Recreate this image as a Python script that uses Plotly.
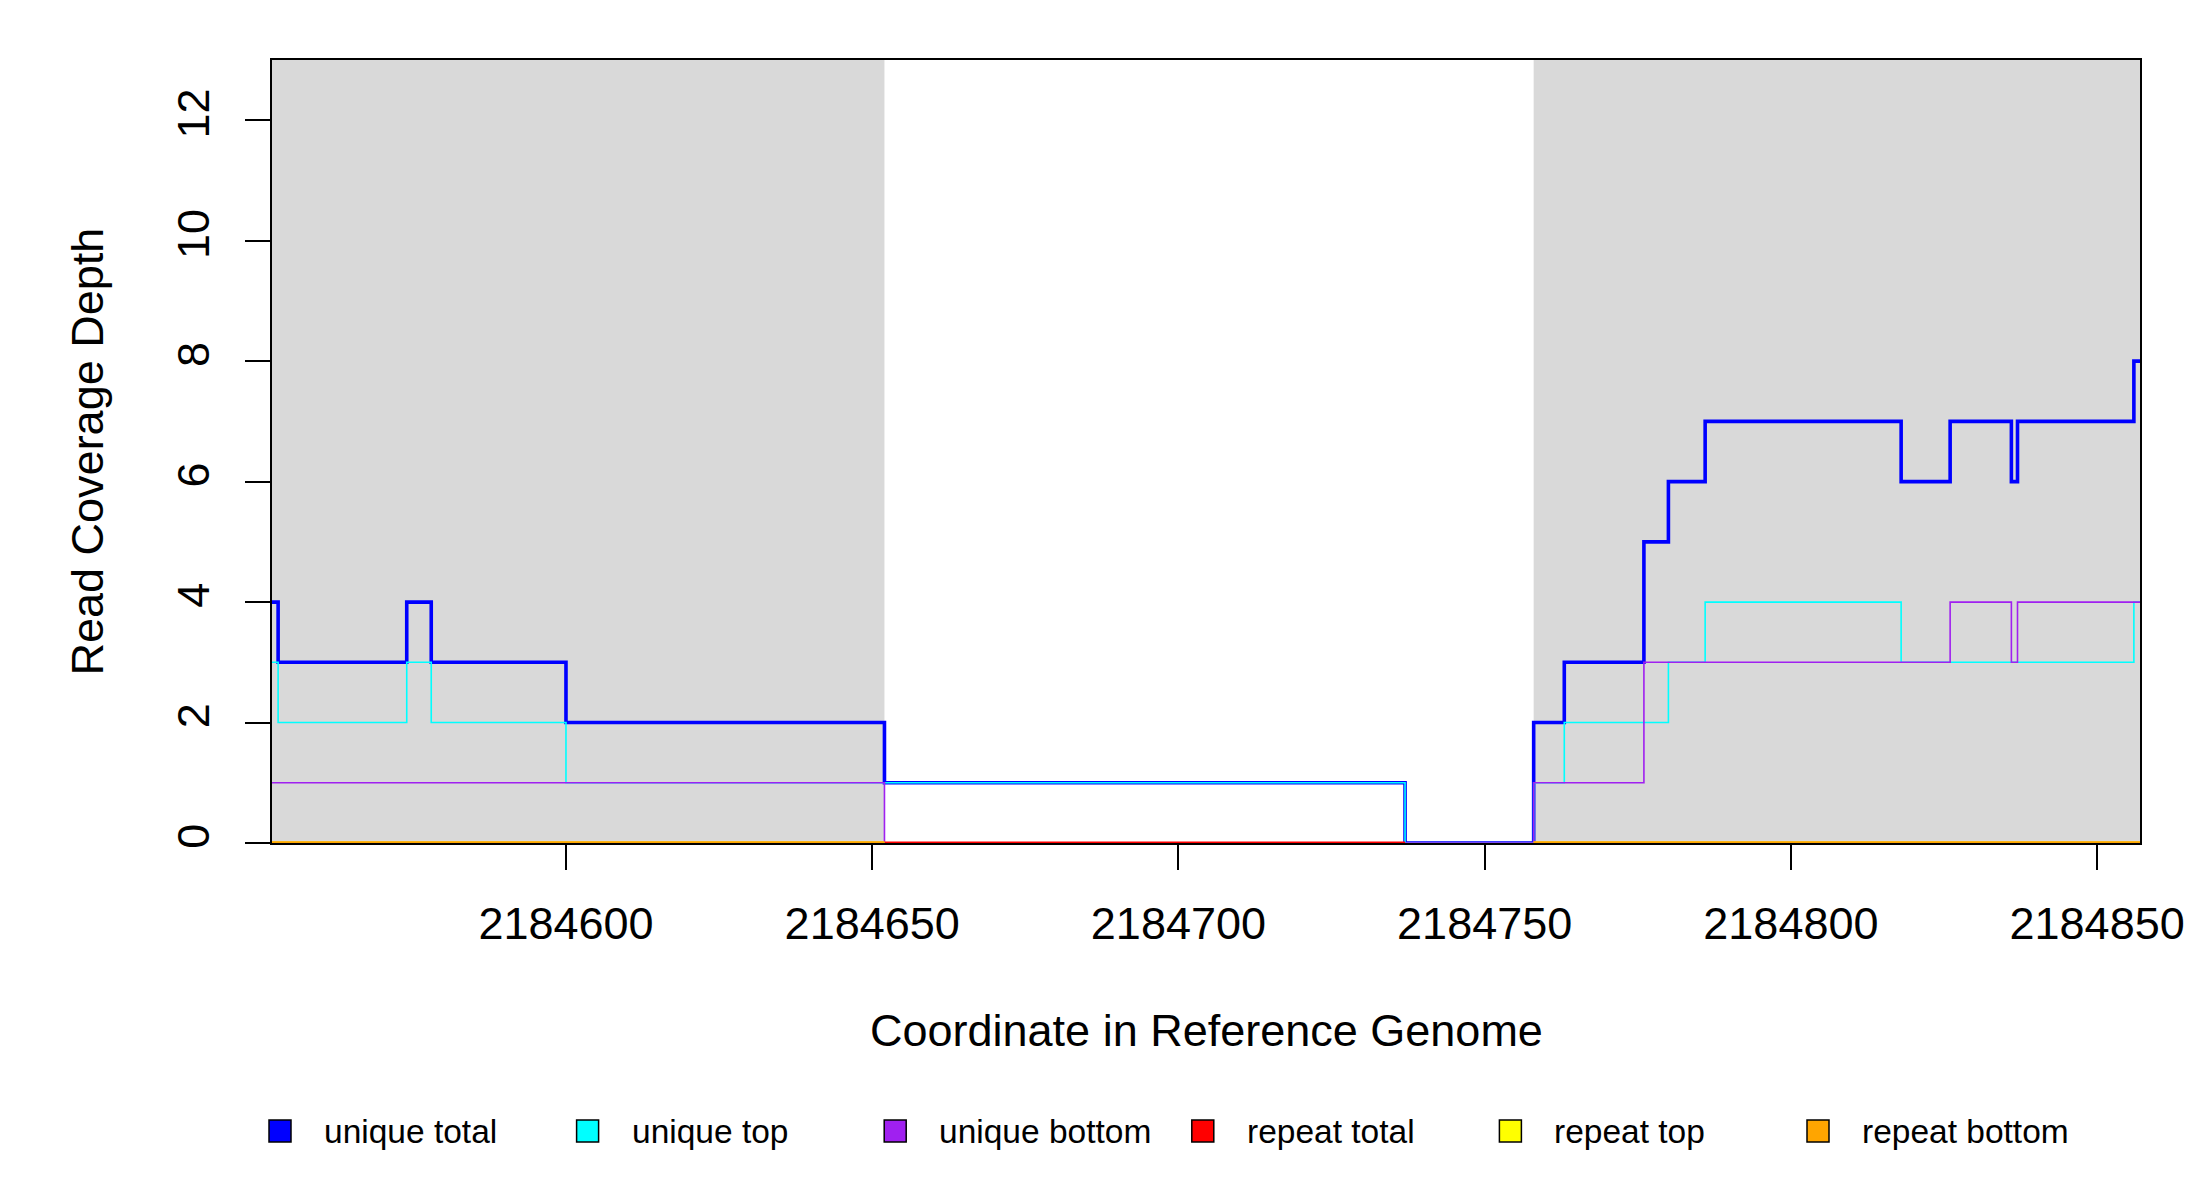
import plotly.graph_objects as go

# Coverage steps (value holds from each position to the next)
position = [2184552, 2184553, 2184574, 2184578, 2184600, 2184652, 2184737, 2184758, 2184763,
            2184776, 2184780, 2184786, 2184818, 2184826, 2184836, 2184837, 2184856, 2184857]
unique_total = [4, 3, 4, 3, 2, 1, 0, 2, 3, 5, 6, 7, 6, 7, 6, 7, 8, 8]
unique_top = [3, 2, 3, 2, 1, 1, 0, 1, 2, 2, 3, 4, 3, 3, 3, 3, 4, 4]
unique_bottom = [1, 1, 1, 1, 1, 0, 0, 1, 1, 3, 3, 3, 3, 4, 3, 4, 4, 4]
repeat_total = [None, None, None, None, None, 0, 0, None, None,
                None, None, None, None, None, None, None, None, None]
repeat_top = [0, 0, 0, 0, 0, 0, None, 0, 0, 0, 0, 0, 0, 0, 0, 0, 0, 0]
repeat_bottom = [0, 0, 0, 0, 0, 0, None, 0, 0, 0, 0, 0, 0, 0, 0, 0, 0, 0]

# flanking regions shaded grey
shade_start = [2184552, 2184758]
shade_end = [2184652, 2184857]

x_ticks = [2184600, 2184650, 2184700, 2184750, 2184800, 2184850]
y_ticks = [0, 2, 4, 6, 8, 10, 12]

names = ['unique total', 'unique top', 'unique bottom', 'repeat total', 'repeat top', 'repeat bottom']
colors = ['#0000ff', '#00ffff', '#a020f0', '#ff0000', '#ffff00', '#ffa500']
series = [unique_total, unique_top, unique_bottom, repeat_total, repeat_top, repeat_bottom]
widths = [3.6, 1.6, 1.6, 3, 3, 3.4]

FONT = 'Liberation Sans, Arial, sans-serif'
W, H = 2200, 1200
L, R, T, B = 264, 68, 52, 365
pw, ph = W - L - R, H - T - B
bottom_px = T + ph

fig = go.Figure()
for name, col, ys, w in zip(names, colors, series, widths):
    fig.add_trace(go.Scatter(x=position, y=ys, mode='lines', name=name,
                             line=dict(color=col, width=w, shape='hv'),
                             showlegend=False))

for s, e in zip(shade_start, shade_end):
    fig.add_shape(type='rect', xref='x', yref='paper', x0=s, x1=e, y0=0, y1=1,
                  fillcolor='#d9d9d9', line=dict(width=0), layer='below')

# legend drawn by hand so the boxes can be as large as in the original
for i, (name, col) in enumerate(zip(names, colors)):
    cx = (272 + i * 307.6 - L) / pw
    cy = -(1123 - bottom_px) / ph
    fig.add_shape(type='rect', xref='paper', yref='paper', xsizemode='pixel', ysizemode='pixel',
                  xanchor=cx, yanchor=cy, x0=-11, x1=11, y0=-11, y1=11,
                  fillcolor=col, line=dict(color='black', width=1.5))
    fig.add_annotation(x=cx, y=cy, xref='paper', yref='paper', xanchor='left', yanchor='middle',
                       xshift=42, text=name, showarrow=False,
                       font=dict(family=FONT, size=33.5, color='black'))

fig.add_annotation(x=0.5, y=0, xref='paper', yref='paper', yshift=-187,
                   text='Coordinate in Reference Genome', showarrow=False,
                   xanchor='center', yanchor='middle', font=dict(family=FONT, size=45, color='black'))
fig.add_annotation(x=0, y=0.5, xref='paper', yref='paper', xshift=-185,
                   text='Read Coverage Depth', showarrow=False, textangle=-90,
                   xanchor='center', yanchor='middle', font=dict(family=FONT, size=45, color='black'))

axis_common = dict(showgrid=False, zeroline=False, showline=True, mirror=True,
                   linecolor='black', linewidth=1.5, ticks='outside', ticklen=25,
                   tickwidth=1.5, tickcolor='black',
                   tickfont=dict(family=FONT, size=45, color='black'))

fig.update_layout(
    width=W, height=H,
    margin=dict(l=L, r=R, t=T, b=B),
    paper_bgcolor='white', plot_bgcolor='white',
    xaxis=dict(range=[2184552, 2184857], tickvals=x_ticks, tickformat='d',
               ticklabelstandoff=15, **axis_common),
    yaxis=dict(range=[0, 13], tickvals=y_ticks, tickangle=-90,
               ticklabelstandoff=18, **axis_common),
)

fig.write_html('out.html')
